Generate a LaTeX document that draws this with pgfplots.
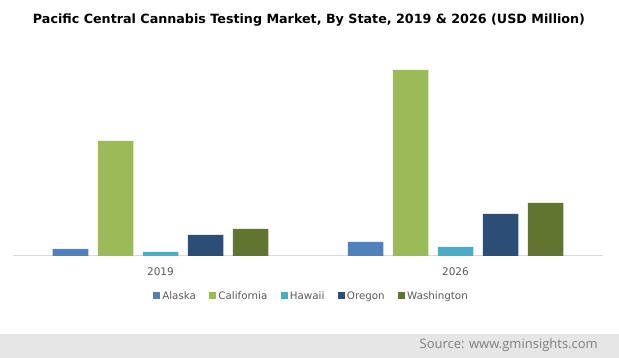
\documentclass[border=0pt]{standalone}
\usepackage{pgfplots}
\pgfplotsset{compat=1.18}
\usepackage{fontspec}
\setmainfont{DejaVu Sans}
\newfontfamily\srcfont{Open Sans}
\definecolor{cAlaska}{HTML}{4F81BD}
\definecolor{cCalifornia}{HTML}{9BBB59}
\definecolor{cHawaii}{HTML}{4BACC6}
\definecolor{cOregon}{HTML}{2C4D75}
\definecolor{cWashington}{HTML}{5F7530}
\definecolor{txtgray}{HTML}{595959}
\definecolor{axgray}{HTML}{D9D9D9}
\definecolor{bandgray}{HTML}{E6E6E6}
\definecolor{srcgray}{HTML}{7F7F7F}
\begin{document}
\begin{tikzpicture}[x=1pt,y=1pt]
\useasboundingbox (0,0) rectangle (619,358);
\fill[white] (0,0) rectangle (619,358);
\fill[bandgray] (0,0) rectangle (619,24);
\node[anchor=east, text=srcgray, font=\srcfont\fontsize{13}{15}\selectfont, inner sep=0pt] at (598,12.5) {Source: www.gminsights.com};
\node[font=\bfseries\fontsize{12.7}{15}\selectfont, inner sep=0pt] at (309,338) {Pacific Central Cannabis Testing Market, By State, 2019 \& 2026 (USD Million)};
\begin{axis}[
  at={(13pt,102pt)}, anchor=south west,
  scale only axis, width=590pt, height=200pt,
  xmin=-0.5, xmax=1.5, ymin=0, ymax=200,
  ybar=9.5pt, bar width=35.5pt,
  axis y line=none, axis x line*=bottom,
  x axis line style={axgray, line width=1pt, -},
  xtick={0,1}, xticklabels={2019,2026}, major tick length=0pt,
  xticklabel style={text=txtgray, font=\fontsize{10.5}{12}\selectfont, yshift=-8pt},
  legend columns=5,
  legend style={at={(0.506,-0.2)}, anchor=center, draw=none, fill=none,
    font=\fontsize{10.3}{12}\selectfont, text=txtgray,
    /tikz/every even column/.append style={column sep=11.5pt}},
  legend image code/.code={\fill[#1] (0pt,-3.5pt) rectangle (7pt,3.5pt);},
]
\addplot[fill=cAlaska, draw=none] coordinates {(0,7) (1,14)};
\addplot[fill=cCalifornia, draw=none] coordinates {(0,115) (1,186)};
\addplot[fill=cHawaii, draw=none] coordinates {(0,4) (1,9)};
\addplot[fill=cOregon, draw=none] coordinates {(0,21) (1,42)};
\addplot[fill=cWashington, draw=none] coordinates {(0,27) (1,53)};
\legend{Alaska, California, Hawaii, Oregon, Washington}
\end{axis}
\end{tikzpicture}
\end{document}
